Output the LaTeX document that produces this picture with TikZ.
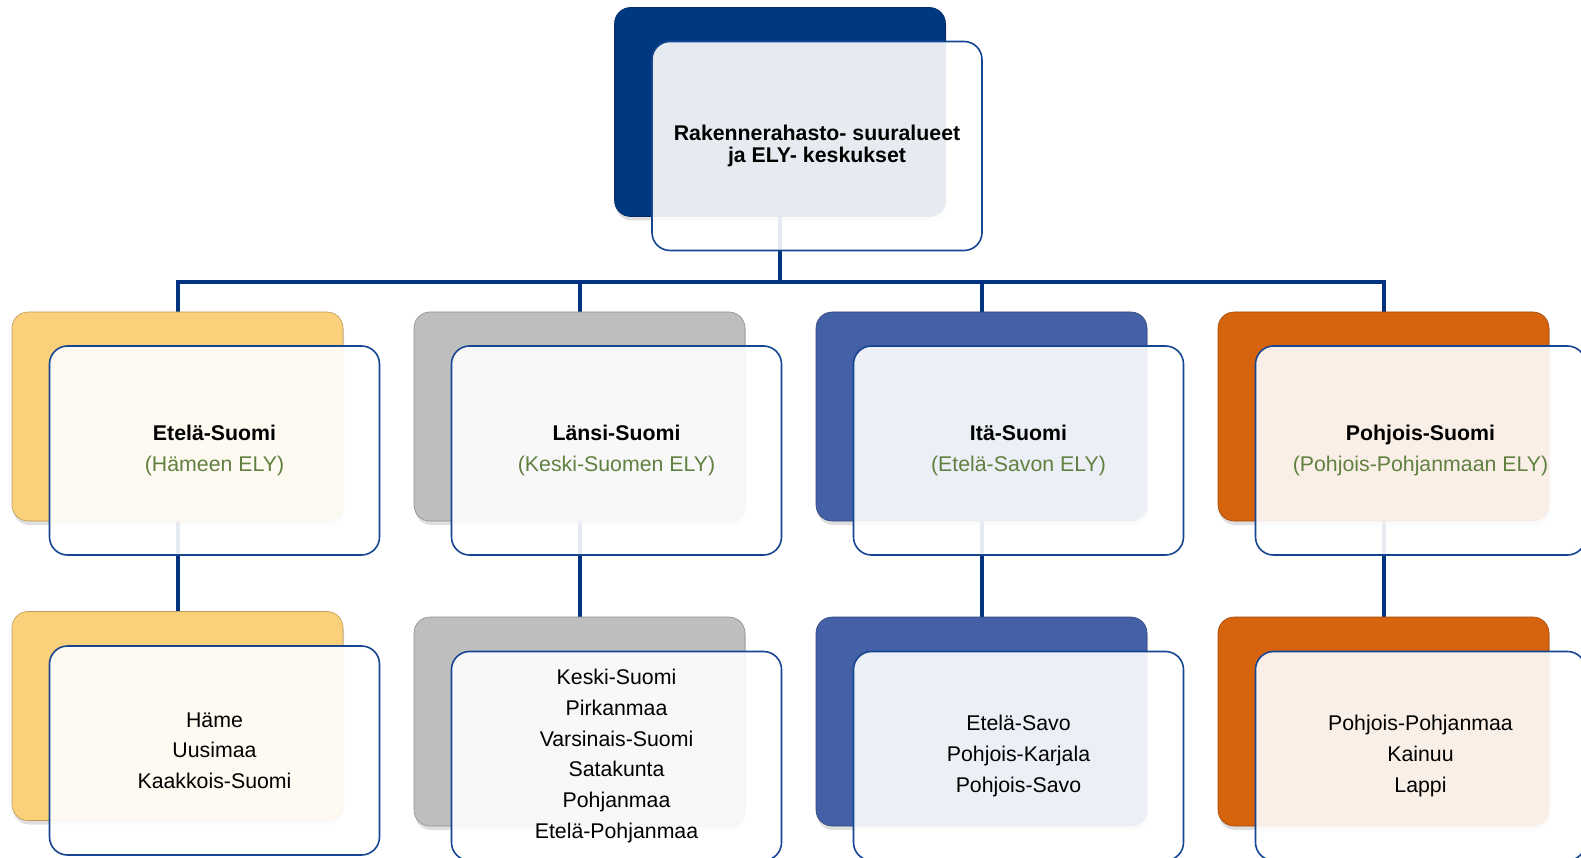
\documentclass[tikz,border=0pt]{standalone}
\usepackage{fontspec}
\setmainfont{Liberation Sans}
\usetikzlibrary{shadows}
\definecolor{navyc}{RGB}{0,56,128}
\definecolor{yellowc}{RGB}{250,208,122}
\definecolor{grayc}{RGB}{190,190,190}
\definecolor{bluec}{RGB}{68,96,166}
\definecolor{orangec}{RGB}{214,99,14}
\definecolor{frontline}{RGB}{22,70,145}
\definecolor{connc}{RGB}{0,51,128}
\definecolor{elygreen}{RGB}{96,128,64}
\pgfdeclarelayer{bg}
\pgfsetlayers{bg,main}
\begin{document}
\begin{tikzpicture}[x=1pt,y=-1pt,
  backbox/.style={draw=#1!75!black, line width=0.6pt, fill=#1, rounded corners=16pt,
    minimum width=331pt, minimum height=209pt, inner sep=0pt,
    drop shadow={shadow xshift=1pt,shadow yshift=-4pt,opacity=0.25}},
  frontbox/.style={draw=frontline, line width=1.6pt, fill=white, fill opacity=0.9, text opacity=1,
    rounded corners=18pt, minimum width=330pt, minimum height=209pt, inner sep=0pt,
    align=center, font=\fontsize{21.3}{30.7}\selectfont},
  conn/.style={draw=connc, line width=4pt},
  ely/.style={text=elygreen}]
\path[use as bounding box] (0,0) rectangle (1581,858);

% top
\node[backbox=navyc] (topb) at (780,112) {};
\node[frontbox, font=\bfseries\fontsize{21.3}{22}\selectfont] (topf) at (817,146) {Rakennerahasto- suuralueet\\ja ELY- keskukset};

% row 2
\node[backbox=yellowc] (b1) at (177.5,416.5) {};
\node[frontbox] (f1) at (214.5,450.5) {\textbf{Etelä-Suomi}\\\textcolor{elygreen}{(Hämeen ELY)}};
\node[backbox=grayc] (b2) at (579.5,416.5) {};
\node[frontbox] (f2) at (616.5,450.5) {\textbf{Länsi-Suomi}\\\textcolor{elygreen}{(Keski-Suomen ELY)}};
\node[backbox=bluec] (b3) at (981.5,416.5) {};
\node[frontbox] (f3) at (1018.5,450.5) {\textbf{Itä-Suomi}\\\textcolor{elygreen}{(Etelä-Savon ELY)}};
\node[backbox=orangec] (b4) at (1383.5,416.5) {};
\node[frontbox] (f4) at (1420.5,450.5) {\textbf{Pohjois-Suomi}\\\textcolor{elygreen}{(Pohjois-Pohjanmaan ELY)}};

% row 3
\node[backbox=yellowc] (c1) at (177.5,716) {};
\node[frontbox] (g1) at (214.5,750.5) {Häme\\Uusimaa\\Kaakkois-Suomi};
\node[backbox=grayc] (c2) at (579.5,721.5) {};
\node[frontbox] (g2) at (616.5,756) {Keski-Suomi\\Pirkanmaa\\Varsinais-Suomi\\Satakunta\\Pohjanmaa\\Etelä-Pohjanmaa};
\node[backbox=bluec] (c3) at (981.5,721.5) {};
\node[frontbox] (g3) at (1018.5,756) {Etelä-Savo\\Pohjois-Karjala\\Pohjois-Savo};
\node[backbox=orangec] (c4) at (1383.5,721.5) {};
\node[frontbox] (g4) at (1420.5,756) {Pohjois-Pohjanmaa\\Kainuu\\Lappi};

% connectors
\begin{pgfonlayer}{bg}
\foreach \b in {b1,b2,b3,b4}{
  \draw[conn] (topb.south) -- ++(0,65) -| (\b.north);
}
\draw[conn] (b1.south) -- (c1.north);
\draw[conn] (b2.south) -- (c2.north);
\draw[conn] (b3.south) -- (c3.north);
\draw[conn] (b4.south) -- (c4.north);
\end{pgfonlayer}
\end{tikzpicture}
\end{document}
